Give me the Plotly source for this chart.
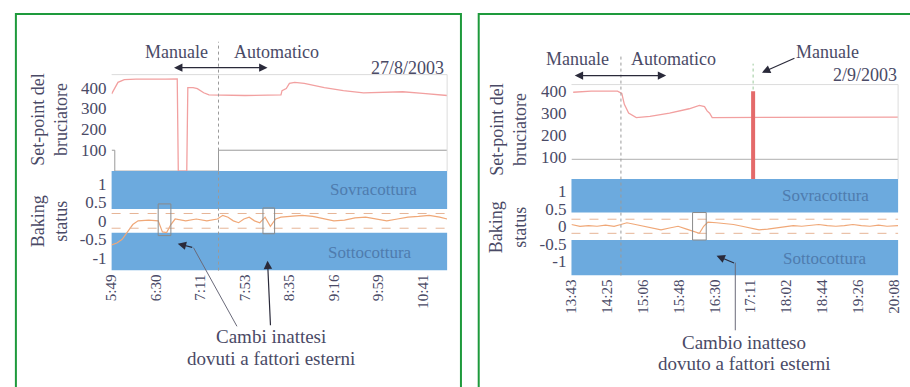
import plotly.graph_objects as go

W, H = 910, 387
FONT = "Liberation Serif, Times New Roman, DejaVu Serif, serif"
TXT = "#4a4a66"
BLUE = "#6caade"
PINK = "#f2a0a0"
ORANGE = "#f0a878"
GREEN = "#1e9a3c"

# ---------------- panel 1: 27/8/2003 ----------------
left_ticks = ["5:49", "6:30", "7:11", "7:53", "8:35", "9:16", "9:59", "10:41"]
left_tick_step = 42
left_xmax = 317

# burner set-point
left_sp_x = [0, 3, 6, 12, 23, 51, 59, 62, 63, 71, 72, 77, 81, 87, 92, 126, 160,
             161, 165, 168, 173, 182, 201, 219, 238, 257, 275, 294, 317]
left_sp_y = [370, 400, 425, 438, 440, 440, 442, 442, 0, 0, 400, 400, 395, 375, 365,
             362, 365, 385, 395, 420, 425, 420, 400, 385, 375, 378, 380, 372, 362]

# control mode indicator (0 = manual, 100 = automatic)
left_mode_x = [0, 3, 3, 101, 101, 317]
left_mode_y = [100, 100, 0, 0, 100, 100]
left_switch = 101

# baking status
left_bs_x = [0, 5, 10, 15, 20, 25, 35, 44, 48, 52, 56, 60, 70, 80, 90, 100, 105, 110,
             115, 120, 125, 130, 135, 140, 145, 150, 155, 160, 170, 180, 190, 200,
             210, 220, 230, 240, 250, 260, 270, 280, 290, 300, 310, 317]
left_bs_y = [-0.65, -0.6, -0.5, -0.3, -0.1, 0.0, 0.02, 0.0, -0.3, -0.32, -0.1, 0.05,
             0.0, 0.05, 0.0, 0.05, 0.15, 0.1, 0.0, -0.05, 0.05, 0.1, 0.0, -0.05, 0.1,
             -0.15, 0.05, 0.1, 0.12, 0.15, 0.12, 0.05, 0.0, 0.02, 0.08, 0.1, 0.05,
             0.0, 0.05, 0.1, 0.12, 0.15, 0.1, 0.05]
left_boxes = [(44, 56, -0.4, 0.46), (143, 154, -0.35, 0.35)]
left_band = 0.32

# ---------------- panel 2: 2/9/2003 ----------------
right_ticks = ["13:43", "14:25", "15:06", "15:48", "16:30", "17:11", "18:02",
               "18:44", "19:26", "20:08"]
right_tick_step = 42
right_xmax = 383

right_sp_x = [2, 23, 54, 59, 62, 67, 76, 92, 115, 138, 150, 156, 159, 162, 165, 219, 383]
right_sp_y = [395, 400, 400, 390, 340, 300, 280, 285, 300, 320, 335, 330, 310, 300,
              280, 280, 282]
right_mode_x = [0, 383]
right_mode_y = [90, 90]
right_switch = 58
right_manual_x = [213, 213]
right_manual_y = [0, 400]

right_bs_x = [0, 10, 20, 30, 40, 50, 58, 65, 75, 85, 95, 105, 115, 125, 135, 145,
              150, 155, 160, 170, 180, 190, 200, 210, 220, 230, 240, 250, 260, 270,
              280, 290, 300, 310, 320, 330, 340, 350, 360, 370, 383]
right_bs_y = [0.05, 0.0, 0.02, 0.0, 0.03, 0.0, 0.05, 0.1, 0.05, 0.0, -0.05, -0.1,
              -0.05, 0.0, -0.08, -0.15, -0.2, 0.0, 0.12, 0.1, 0.08, 0.05, 0.0, -0.05,
              -0.1, -0.08, -0.05, 0.0, 0.02, 0.0, 0.03, 0.05, 0.02, 0.0, 0.02, 0.05,
              0.02, 0.0, 0.03, 0.0, 0.02]
right_boxes = [(142, 158, -0.39, 0.39)]
right_band = 0.39

status_vals = [-1, -0.5, 0, 0.5, 1]
status_text = ["-1", "-0.5", "0", "0.5", "1"]
sp_vals = [100, 200, 300, 400]


def fx(p):
    return p / W


def fy(p):
    return 1 - p / H


fig = go.Figure()

# set-point and mode traces
fig.add_trace(go.Scatter(x=left_mode_x, y=left_mode_y, mode="lines",
                         line=dict(color="#9a9a9a", width=1), xaxis="x", yaxis="y"))
fig.add_trace(go.Scatter(x=left_sp_x, y=left_sp_y, mode="lines",
                         line=dict(color=PINK, width=1.3), xaxis="x", yaxis="y"))
fig.add_trace(go.Scatter(x=right_mode_x, y=right_mode_y, mode="lines",
                         line=dict(color="#b0b0b0", width=1), xaxis="x3", yaxis="y3"))
fig.add_trace(go.Scatter(x=right_sp_x, y=right_sp_y, mode="lines",
                         line=dict(color=PINK, width=1.3), xaxis="x3", yaxis="y3"))
fig.add_trace(go.Scatter(x=right_manual_x, y=right_manual_y, mode="lines",
                         line=dict(color="#e46a6a", width=4), xaxis="x3", yaxis="y3"))

# status lines
fig.add_trace(go.Scatter(x=left_bs_x, y=left_bs_y, mode="lines",
                         line=dict(color=ORANGE, width=1.2), xaxis="x2", yaxis="y2"))
fig.add_trace(go.Scatter(x=right_bs_x, y=right_bs_y, mode="lines",
                         line=dict(color=ORANGE, width=1.2), xaxis="x4", yaxis="y4"))

axis_common = dict(showgrid=False, zeroline=False, ticks="", showline=False,
                   tickfont=dict(family=FONT, size=17, color=TXT), fixedrange=True)
ycommon = dict(axis_common, ticklabelstandoff=4)
xtick_font = dict(family=FONT, size=15, color=TXT)

fig.update_layout(
    width=W, height=H, autosize=False,
    margin=dict(l=0, r=0, t=0, b=0),
    paper_bgcolor="white", plot_bgcolor="white",
    showlegend=False,
    font=dict(family=FONT, color=TXT),
    xaxis=dict(domain=[fx(105), fx(445)], anchor="y", range=[0, left_xmax],
               showticklabels=False, **axis_common),
    yaxis=dict(domain=[fy(170), fy(73)], anchor="x", range=[0, 462],
               tickvals=sp_vals, **ycommon),
    xaxis2=dict(domain=[fx(105), fx(445)], anchor="y2", range=[0, left_xmax],
                tickvals=[i * left_tick_step for i in range(len(left_ticks))],
                ticktext=left_ticks, tickangle=-90,
                **{**axis_common, "tickfont": xtick_font}),
    yaxis2=dict(domain=[fy(270), fy(170)], anchor="x2", range=[-1.35, 1.35],
                tickvals=status_vals, ticktext=status_text, **ycommon),
    xaxis3=dict(domain=[fx(571), fx(902)], anchor="y3", range=[0, right_xmax],
                showticklabels=False, **axis_common),
    yaxis3=dict(domain=[fy(178), fy(83)], anchor="x3", range=[0, 430],
                tickvals=sp_vals, **ycommon),
    xaxis4=dict(domain=[fx(571), fx(902)], anchor="y4", range=[0, right_xmax],
                tickvals=[i * right_tick_step for i in range(len(right_ticks))],
                ticktext=right_ticks, tickangle=-90,
                **{**axis_common, "tickfont": xtick_font}),
    yaxis4=dict(domain=[fy(275), fy(178)], anchor="x4", range=[-1.4, 1.34],
                tickvals=status_vals, ticktext=status_text, **ycommon),
)

shapes = []

# green frames
shapes.append(dict(type="rect", xref="paper", yref="paper", x0=fx(8), x1=fx(459),
                   y0=fy(400), y1=fy(12), line=dict(color=GREEN, width=2)))
shapes.append(dict(type="rect", xref="paper", yref="paper", x0=fx(477), x1=fx(916),
                   y0=fy(400), y1=fy(12), line=dict(color=GREEN, width=2)))

# light frame of the set-point plots
for xa, ya in (("x", "y"), ("x3", "y3")):
    shapes.append(dict(type="line", xref=xa + " domain", yref=ya + " domain",
                       x0=0, x1=1, y0=1, y1=1, line=dict(color="#dcdcdc", width=1)))
    shapes.append(dict(type="line", xref=xa + " domain", yref=ya + " domain",
                       x0=1, x1=1, y0=0, y1=1, line=dict(color="#dcdcdc", width=1)))

# status bands
for xa, ya, band, rng in (("x2", "y2", left_band, 1.35), ("x4", "y4", right_band, 1.4)):
    shapes.append(dict(type="rect", xref=xa + " domain", yref=ya, x0=0, x1=1,
                       y0=band, y1=rng, fillcolor=BLUE, line=dict(width=0), layer="below"))
    shapes.append(dict(type="rect", xref=xa + " domain", yref=ya, x0=0, x1=1,
                       y0=-rng, y1=-band, fillcolor=BLUE, line=dict(width=0), layer="below"))
    for lv in (0.2, -0.2):
        shapes.append(dict(type="line", xref=xa + " domain", yref=ya, x0=0, x1=1,
                           y0=lv, y1=lv, line=dict(color="#e6b596", width=1, dash="dash")))

# boxes around unexpected changes
for xa, ya, boxes in (("x2", "y2", left_boxes), ("x4", "y4", right_boxes)):
    for b in boxes:
        shapes.append(dict(type="rect", xref=xa, yref=ya, x0=b[0], x1=b[1], y0=b[2],
                           y1=b[3], line=dict(color="#8a8a8a", width=1)))

# manual / automatic separators
shapes.append(dict(type="line", xref="x", yref="paper", x0=left_switch, x1=left_switch,
                   y0=fy(270), y1=fy(40), line=dict(color="#9a9a9a", width=1, dash="dot")))
shapes.append(dict(type="line", xref="x3", yref="paper", x0=right_switch, x1=right_switch,
                   y0=fy(275), y1=fy(52), line=dict(color="#9a9a9a", width=1, dash="dot")))
shapes.append(dict(type="line", xref="x3", yref="paper", x0=right_manual_x[0],
                   x1=right_manual_x[0], y0=fy(88), y1=fy(62),
                   line=dict(color="#9cc99c", width=1, dash="dot")))

# leader lines for the bottom notes
shapes.append(dict(type="line", xref="paper", yref="paper", x0=fx(232), y0=fy(326),
                   x1=fx(188), y1=fy(247), line=dict(color="#6a6a7a", width=1)))
shapes.append(dict(type="line", xref="paper", yref="paper", x0=fx(737), y0=fy(330),
                   x1=fx(737), y1=fy(262), line=dict(color="#6a6a7a", width=1)))

fig.update_layout(shapes=shapes)

ann = []


def text(x, y, s, size=17, anchor="center", angle=0, color=TXT):
    ann.append(dict(xref="paper", yref="paper", x=fx(x), y=fy(y), text=s,
                    showarrow=False, xanchor=anchor, yanchor="middle", textangle=angle,
                    font=dict(family=FONT, size=size, color=color)))


def arrow(x0, y0, x1, y1, both=False, color="#2a2a3a"):
    # tail at (x0, y0), head at (x1, y1), offsets in screen pixels
    ann.append(dict(xref="paper", yref="paper", axref="pixel", ayref="pixel",
                    x=fx(x1), y=fy(y1), ax=x0 - x1, ay=y0 - y1, text="", showarrow=True,
                    arrowhead=2, arrowsize=1.4, arrowwidth=1.2, arrowcolor=color,
                    arrowside="end+start" if both else "end", startarrowhead=2,
                    startarrowsize=1.4))


BAND_TXT = "#4f7cae"

# panel 1 texts
text(171, 50, "Manuale", size=18)
text(272, 50, "Automatico", size=18)
arrow(168, 66, 263, 66, both=True)
text(444, 66, "27/8/2003", anchor="right", size=18)
text(42, 118, "Set-point del<br>bruciatore", size=18, angle=-90)
text(42, 220, "Baking<br>status", size=18, angle=-90)
text(370, 188, "Sovracottura", size=17, color=BAND_TXT)
text(367, 252, "Sottocottura", size=17, color=BAND_TXT)
text(267, 336, "Cambi inattesi", size=19)
text(267, 358, "dovuti a fattori esterni", size=19)
arrow(188, 247, 172, 243)
arrow(266, 326, 263, 260)

# panel 2 texts
text(577, 57, "Manuale", size=18)
text(674, 57, "Automatico", size=18)
arrow(574, 74, 667, 74, both=True)
text(903, 73, "2/9/2003", anchor="right", size=18)
text(830, 50, "Manuale", size=18)
arrow(798, 56, 764, 71)
text(507, 128, "Set-point del<br>bruciatore", size=18, angle=-90)
text(507, 226, "Baking<br>status", size=18, angle=-90)
text(828, 195, "Sovracottura", size=17, color=BAND_TXT)
text(828, 258, "Sottocottura", size=17, color=BAND_TXT)
text(746, 342, "Cambio inatteso", size=19)
text(746, 363, "dovuto a fattori esterni", size=19)
arrow(737, 263, 718, 255)

fig.update_layout(annotations=ann)

fig.write_html("out.html", config={"displayModeBar": False})
